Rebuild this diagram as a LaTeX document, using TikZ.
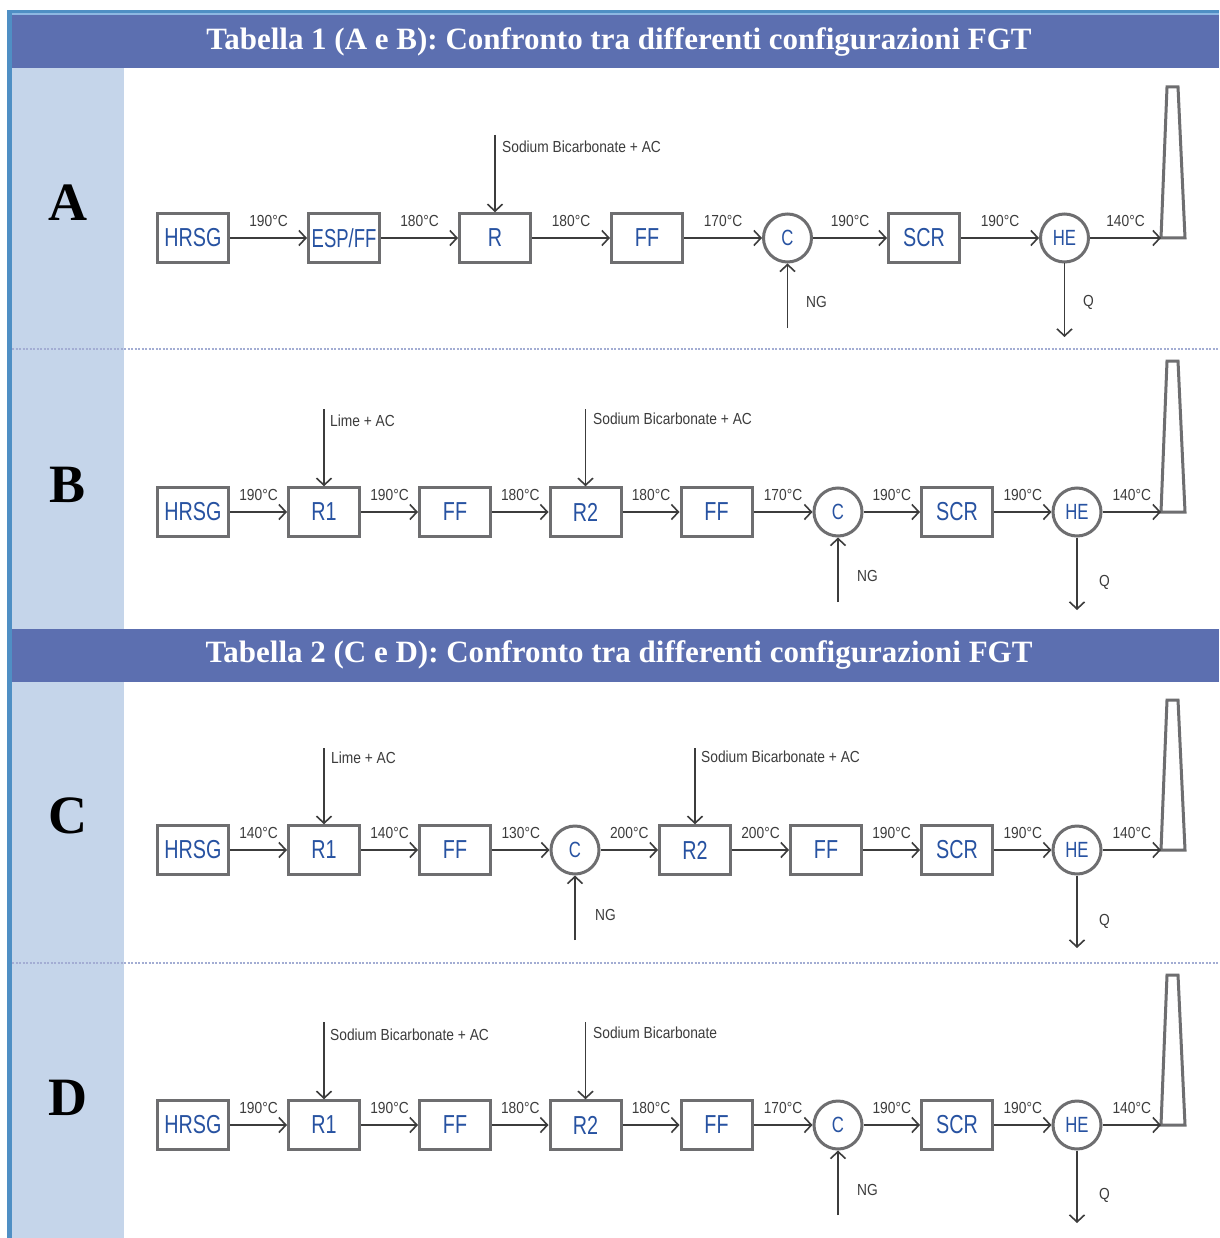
\documentclass[tikz,border=0pt]{standalone}
\usepackage{fontspec}
\setmainfont{Liberation Serif}
\newfontfamily\boxfont[FakeStretch=0.76]{Liberation Sans}
\newfontfamily\narrowfont[FakeStretch=0.71]{Liberation Sans}
\newfontfamily\lblfont[FakeStretch=0.86]{Liberation Sans}
\usetikzlibrary{arrows.meta}
\definecolor{hdrblue}{HTML}{5C6FB0}
\definecolor{sideblue}{HTML}{C5D5EA}
\definecolor{barblue}{HTML}{4F8FC4}
\definecolor{lineblue}{HTML}{8DB8E2}
\definecolor{dotblue}{HTML}{A3ADD3}
\definecolor{boxgray}{HTML}{6E6E70}
\definecolor{arrgray}{HTML}{3C3C3C}
\definecolor{txtblue}{HTML}{2752A1}
\begin{document}
\begin{tikzpicture}
  [x=1pt,y=-1pt,
   box/.style={draw=boxgray,line width=3pt,fill=white,minimum width=71pt,minimum height=48.5pt,inner sep=0pt,font=\boxfont\fontsize{26}{26}\selectfont,text=txtblue},
   circ/.style={circle,draw=boxgray,line width=3pt,fill=white,minimum size=48pt,inner sep=0pt,font=\boxfont\fontsize{22}{22}\selectfont,text=txtblue},
   flow/.style={draw=arrgray,line width=1.6pt,-{Straight Barb[length=7pt,width=15pt]}},
   temp/.style={above=9.5pt,inner sep=1pt,font=\lblfont\fontsize{16}{16}\selectfont,text=arrgray},
   lbl/.style={anchor=west,inner sep=0pt,font=\lblfont\fontsize{16}{16}\selectfont,text=arrgray},
   letter/.style={font=\bfseries\fontsize{54}{54}\selectfont},
   title/.style={font=\bfseries\fontsize{31}{31}\selectfont,text=white},
   stack/.style={draw=boxgray,line width=3pt,line join=miter}]
  \fill[white] (0,0) rectangle (1219,1238);
  \useasboundingbox (0,0) rectangle (1219,1238);
  % frame and bands
  \fill[barblue] (7,10) rectangle (12,1238);
  \fill[barblue] (7,10) rectangle (1219,13);
  \fill[lineblue] (12,13) rectangle (1219,15);
  \fill[hdrblue] (12,15) rectangle (1219,68);
  \fill[sideblue] (12,68) rectangle (124,1238);
  \fill[hdrblue] (12,629) rectangle (1219,682);
  \draw[dotblue,line width=1.5pt,dash pattern=on 2pt off 1.5pt] (12,349) -- (1219,349);
  \draw[dotblue,line width=1.5pt,dash pattern=on 2pt off 1.5pt] (12,963) -- (1219,963);
  \node[title] (t1) at (619,42) {Tabella 1 (A e B): Confronto tra differenti configurazioni FGT};
  \node[title] (t2) at (619,655) {Tabella 2 (C e D): Confronto tra differenti configurazioni FGT};

  % A
  \node[letter] (lA) at (68,203) {A};
  \node[box] (a1) at (193,238) {HRSG};
  \node[box,font=\narrowfont\fontsize{26}{26}\selectfont] (a2) at (344,238) {ESP/FF};
  \node[box] (a3) at (495,238) {R};
  \node[box] (a4) at (647,238) {FF};
  \node[circ] (a5) at (787.5,238) {C};
  \node[box] (a6) at (924,238) {SCR};
  \node[circ] (a7) at (1064.5,238) {HE};
  \coordinate (a8) at (1161,238);
  \draw[stack] (a8) -- (1167,87) -- (1178,87) -- (1185,238) -- cycle;
  \foreach \from/\to/\tval in {a1/a2/190,a2/a3/180,a3/a4/180,a4/a5/170,a5/a6/190,a6/a7/190,a7/a8/140}
    \draw[flow] (\from) -- node[temp] {\tval{}°C} (\to);
  \coordinate (a3in) at (495,135);
  \coordinate (a5in) at (787.5,328);
  \coordinate (a7out) at (1064.5,337);
  \draw[flow] (a3in) -- (a3);
  \draw[flow] (a5in) -- (a5);
  \draw[flow] (a7) -- (a7out);
  \node[lbl] (a3t) at (502,147) {Sodium Bicarbonate + AC};
  \node[lbl] (a5t) at (806,302) {NG};
  \node[lbl] (a7t) at (1083,302) {Q};

  % B
  \node[letter] (lB) at (68,485) {B};
  \node[box] (b1) at (193,512) {HRSG};
  \node[box] (b2) at (324,512) {R1};
  \node[box] (b3) at (455,512) {FF};
  \node[box] (b4) at (585.5,512) {R2};
  \node[box] (b5) at (716.5,512) {FF};
  \node[circ] (b6) at (838,512) {C};
  \node[box] (b7) at (957,512) {SCR};
  \node[circ] (b8) at (1077,512) {HE};
  \coordinate (b9) at (1161,512);
  \draw[stack] (b9) -- (1167,361) -- (1178,361) -- (1185,512) -- cycle;
  \foreach \from/\to/\tval in {b1/b2/190,b2/b3/190,b3/b4/180,b4/b5/180,b5/b6/170,b6/b7/190,b7/b8/190,b8/b9/140}
    \draw[flow] (\from) -- node[temp] {\tval{}°C} (\to);
  \coordinate (b2in) at (324,409);
  \coordinate (b4in) at (585.5,409);
  \coordinate (b6in) at (838,602);
  \coordinate (b8out) at (1077,610);
  \draw[flow] (b2in) -- (b2);
  \draw[flow] (b4in) -- (b4);
  \draw[flow] (b6in) -- (b6);
  \draw[flow] (b8) -- (b8out);
  \node[lbl] (b2t) at (330,421) {Lime + AC};
  \node[lbl] (b4t) at (593,419) {Sodium Bicarbonate + AC};
  \node[lbl] (b6t) at (857,576) {NG};
  \node[lbl] (b8t) at (1099,582) {Q};

  % C
  \node[letter] (lC) at (68,816) {C};
  \node[box] (c1) at (193,850) {HRSG};
  \node[box] (c2) at (324,850) {R1};
  \node[box] (c3) at (455,850) {FF};
  \node[circ] (c4) at (575,850) {C};
  \node[box] (c5) at (695,850) {R2};
  \node[box] (c6) at (826,850) {FF};
  \node[box] (c7) at (957,850) {SCR};
  \node[circ] (c8) at (1077,850) {HE};
  \coordinate (c9) at (1161,850);
  \draw[stack] (c9) -- (1167,700) -- (1178,700) -- (1185,850) -- cycle;
  \foreach \from/\to/\tval in {c1/c2/140,c2/c3/140,c3/c4/130,c4/c5/200,c5/c6/200,c6/c7/190,c7/c8/190,c8/c9/140}
    \draw[flow] (\from) -- node[temp] {\tval{}°C} (\to);
  \coordinate (c2in) at (324,748);
  \coordinate (c5in) at (695,748);
  \coordinate (c4in) at (575,940);
  \coordinate (c8out) at (1077,948);
  \draw[flow] (c2in) -- (c2);
  \draw[flow] (c5in) -- (c5);
  \draw[flow] (c4in) -- (c4);
  \draw[flow] (c8) -- (c8out);
  \node[lbl] (c2t) at (331,758) {Lime + AC};
  \node[lbl] (c5t) at (701,757) {Sodium Bicarbonate + AC};
  \node[lbl] (c4t) at (595,915) {NG};
  \node[lbl] (c8t) at (1099,921) {Q};

  % D
  \node[letter] (lD) at (68,1098) {D};
  \node[box] (d1) at (193,1125) {HRSG};
  \node[box] (d2) at (324,1125) {R1};
  \node[box] (d3) at (455,1125) {FF};
  \node[box] (d4) at (585.5,1125) {R2};
  \node[box] (d5) at (716.5,1125) {FF};
  \node[circ] (d6) at (838,1125) {C};
  \node[box] (d7) at (957,1125) {SCR};
  \node[circ] (d8) at (1077,1125) {HE};
  \coordinate (d9) at (1161,1125);
  \draw[stack] (d9) -- (1167,975) -- (1178,975) -- (1185,1125) -- cycle;
  \foreach \from/\to/\tval in {d1/d2/190,d2/d3/190,d3/d4/180,d4/d5/180,d5/d6/170,d6/d7/190,d7/d8/190,d8/d9/140}
    \draw[flow] (\from) -- node[temp] {\tval{}°C} (\to);
  \coordinate (d2in) at (324,1022);
  \coordinate (d4in) at (585.5,1022);
  \coordinate (d6in) at (838,1215);
  \coordinate (d8out) at (1077,1223);
  \draw[flow] (d2in) -- (d2);
  \draw[flow] (d4in) -- (d4);
  \draw[flow] (d6in) -- (d6);
  \draw[flow] (d8) -- (d8out);
  \node[lbl] (d2t) at (330,1035) {Sodium Bicarbonate + AC};
  \node[lbl] (d4t) at (593,1033) {Sodium Bicarbonate};
  \node[lbl] (d6t) at (857,1190) {NG};
  \node[lbl] (d8t) at (1099,1195) {Q};
\end{tikzpicture}
\end{document}
